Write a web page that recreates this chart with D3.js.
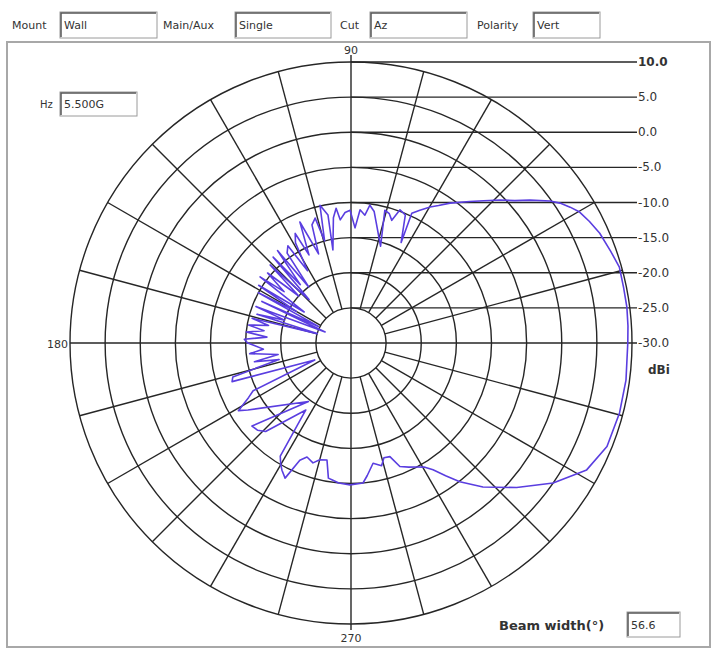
<!DOCTYPE html>
<html>
<head>
<meta charset="utf-8">
<script src="https://cdn.jsdelivr.net/npm/d3@7"></script>
<style>
  body { margin: 0; background: #fff; }
  text { font-family: "DejaVu Sans", Verdana, sans-serif; fill: #333; }
</style>
</head>
<body>
<div class="chart"></div>
<script>
// pattern trace, in drawing order (degrees ccw from 0, gain in dBi)
var angles = [0, 3.5, 7.4, 11.5, 15.8, 19.5, 23.8, 27, 29.8, 31.8, 33.8, 35.5, 38.6, 41, 43.8, 47, 50, 54.7, 57.5, 59.8,
  62.6, 64.9, 63.5, 67, 69.8, 71.6, 73.5, 75.7, 73, 78.3, 80, 82.2, 83.8, 86.1, 88, 90.4, 92.6, 95, 96.3, 98,
  101, 100.2, 102.7, 104.5, 106, 108.3, 110, 112.9, 115.5, 117, 119, 121, 123, 125.4, 127, 128.5, 131, 132.2, 134, 136,
  138, 140, 142.5, 144, 146.5, 148, 150, 151.5, 153, 155, 157, 159, 161, 163, 164.5, 166, 168, 170, 172, 174,
  176, 178, 180, 184, 186, 189, 191, 193, 196, 198, 205, 206, 208, 211, 213, 234, 220, 223, 226, 236,
  238, 240, 241.5, 244, 246.4, 248.9, 252.4, 255, 258.4, 260.5, 262.5, 265, 269.6, 274.9, 277, 280.4, 284, 286, 288.9, 291.6,
  295, 298, 300.5, 302.9, 305.5, 308.1, 312.5, 318.9, 325.3, 331.7, 338, 345.4, 352.3, 360];
var gains = [9.4, 9.5, 9.6, 9.6, 9.7, 9.2, 8.7, 8.1, 7.5, 6.7, 5.8, 4.8, 2.6, 0.9, -0.6, -2.3, -3.7, -5.6, -6.8, -7.6,
  -8.7, -9.6, -14, -10.2, -9.8, -11.6, -10.8, -10.5, -15.6, -12.4, -11, -10.2, -11.7, -11, -13.6, -11.1, -11.4, -12.4, -10.7, -12,
  -16.5, -11.5, -9.9, -15, -11.5, -12.3, -16.5, -11.3, -16.1, -12.5, -13.7, -18, -13.5, -14.3, -20, -13.2, -19, -13.5, -21.4, -14,
  -20, -14.5, -18, -14, -22, -14.5, -21, -15, -24.8, -16, -26, -15.5, -20, -16, -25, -15.5, -18, -15.2, -17.5, -15,
  -18, -14.8, -15.3, -17.5, -15.5, -19.5, -16, -19.5, -12.5, -12.2, -24.3, -14.5, -13.5, -11.3, -12.5, -19.7, -11.6, -11.8, -12.5, -18.5,
  -11, -10, -9.4, -8.6, -11.8, -12.6, -12.1, -12.8, -13, -10.5, -10.3, -10, -9.8, -10, -11, -12.6, -12, -13, -12.9, -11.1,
  -10.5, -10, -9.5, -8.5, -6.8, -4.9, -2.2, 1.3, 5.0, 8.1, 9.3, 9.5, 9.5, 9.4];

var gainTicks = [10, 5, 0, -5, -10, -15, -20, -25, -30];
var spokeStep = 15;

var fields = [
  {label: "Mount", value: "Wall"},
  {label: "Main/Aux", value: "Single"},
  {label: "Cut", value: "Az"},
  {label: "Polarity", value: "Vert"}
];
var freqLabel = "5.500G";
var beamWidth = "56.6";

var svgWidth = 715, svgHeight = 651;
var cx = 351, cy = 343, radius = 281;

var svg = d3.select(".chart").append("svg")
  .attr("width", svgWidth)
  .attr("height", svgHeight);

// sunken text box helper
function textBox(g, x, y, w, h, txt) {
  g.append("rect").attr("x", x).attr("y", y).attr("width", w).attr("height", h)
    .attr("fill", "#fff").attr("stroke", "#9a9a9a").attr("stroke-width", 1);
  g.append("path").attr("d", `M${x + 1},${y + h - 1}V${y + 1}H${x + w - 1}`)
    .attr("fill", "none").attr("stroke", "#555").attr("stroke-width", 1.5);
  g.append("text").attr("x", x + 4).attr("y", y + h / 2 + 4)
    .style("font-size", "11px").text(txt);
}

// top bar
var topBar = svg.append("g");
var fieldX = [[12, 60, 97], [163, 235, 96], [340, 370, 97], [477, 533, 67]];
fields.forEach(function (f, i) {
  topBar.append("text").attr("x", fieldX[i][0]).attr("y", 29).style("font-size", "11px").text(f.label);
  textBox(topBar, fieldX[i][1], 12, fieldX[i][2], 26, f.value);
});

// frame
svg.append("rect").attr("x", 7).attr("y", 42).attr("width", 703).attr("height", 605)
  .attr("fill", "#fff").attr("stroke", "#a8a8a8").attr("stroke-width", 2);

// scales
var rScale = d3.scaleLinear().domain([-30, 10]).range([0, radius]);
var aScale = d3.scaleLinear().domain([0, 360]).range([Math.PI / 2, Math.PI / 2 - 2 * Math.PI]);

var chart = svg.append("g").attr("transform", `translate(${cx}, ${cy})`);
var gridColor = "#262626";

// rings
chart.selectAll(".ring").data(gainTicks.filter(d => d > -30)).enter()
  .append("circle")
  .attr("r", d => rScale(d))
  .attr("fill", "none").attr("stroke", gridColor).attr("stroke-width", 1.4);

// spokes from the inner ring to the outer ring
var spokes = d3.range(0, 360, spokeStep).filter(d => d % 90 != 0);
chart.selectAll(".spoke").data(spokes).enter()
  .append("line")
  .attr("x1", d => rScale(-25) * Math.sin(aScale(d)))
  .attr("y1", d => -rScale(-25) * Math.cos(aScale(d)))
  .attr("x2", d => rScale(10) * Math.sin(aScale(d)))
  .attr("y2", d => -rScale(10) * Math.cos(aScale(d)))
  .attr("stroke", gridColor).attr("stroke-width", 1.4);

// main axes
chart.append("line").attr("x1", -radius).attr("x2", 286).attr("y1", 0).attr("y2", 0)
  .attr("stroke", gridColor).attr("stroke-width", 1.4);
chart.append("line").attr("x1", 0).attr("x2", 0).attr("y1", -radius - 7).attr("y2", radius + 6)
  .attr("stroke", gridColor).attr("stroke-width", 1.4);

// gain level lines with labels
chart.selectAll(".level").data(gainTicks.filter(d => d > -30)).enter()
  .append("line")
  .attr("x1", 0).attr("x2", 286)
  .attr("y1", d => -rScale(d)).attr("y2", d => -rScale(d))
  .attr("stroke", gridColor).attr("stroke-width", 1.4);

chart.selectAll(".levelLabel").data(gainTicks).enter()
  .append("text")
  .attr("x", 287).attr("y", d => -rScale(d) + 4)
  .style("font-size", "12px")
  .style("font-weight", d => d == 10 ? "bold" : "normal")
  .text(d => d.toFixed(1));

chart.append("text").attr("x", 297).attr("y", 31).style("font-size", "12px")
  .style("font-weight", "bold").text("dBi");

// angle labels
chart.append("text").attr("x", 0).attr("y", -radius - 8).attr("text-anchor", "middle")
  .style("font-size", "11px").text("90");
chart.append("text").attr("x", 0).attr("y", radius + 18).attr("text-anchor", "middle")
  .style("font-size", "11px").text("270");
chart.append("text").attr("x", -radius - 2).attr("y", 5).attr("text-anchor", "end")
  .style("font-size", "11px").text("180");

// pattern trace
var pattern = angles.map((a, i) => ({angle: a, gain: gains[i]}));
var line = d3.lineRadial()
  .angle(d => aScale(d.angle))
  .radius(d => rScale(d.gain))
  .curve(d3.curveLinear);

chart.append("path").datum(pattern)
  .attr("d", line)
  .attr("fill", "none")
  .attr("stroke", "#5a3ee0")
  .attr("stroke-width", 1.6)
  .attr("stroke-linejoin", "round");

// frequency box
svg.append("text").attr("x", 40).attr("y", 108).style("font-size", "10px").text("Hz");
textBox(svg, 60, 92, 77, 24, freqLabel);

// beam width box
svg.append("text").attr("x", 499).attr("y", 630).style("font-size", "13px")
  .style("font-weight", "bold").text("Beam width(°)");
textBox(svg, 627, 612, 53, 25, beamWidth);
</script>
</body>
</html>
